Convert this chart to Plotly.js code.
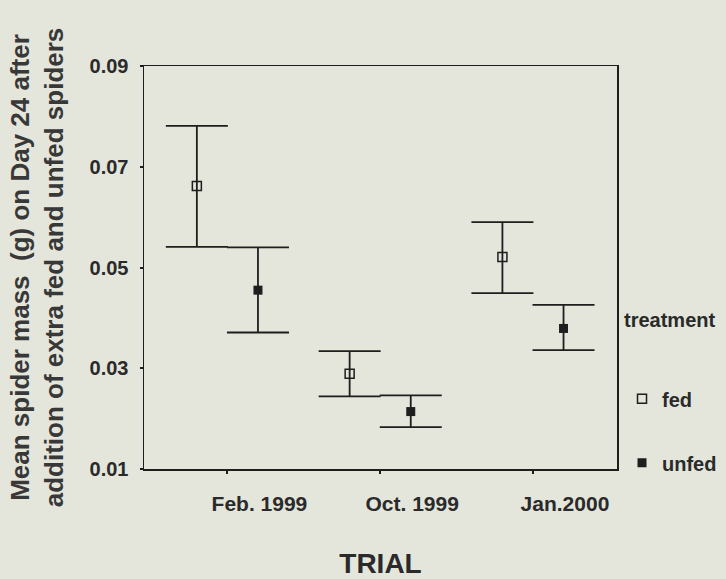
<!DOCTYPE html>
<html>
<head>
<meta charset="utf-8">
<script src="https://cdn.plot.ly/plotly-3.0.1.min.js"></script>
<style>
  html, body { margin: 0; padding: 0; background: #e4e5db; }
  #chart { width: 726px; height: 579px; }
</style>
</head>
<body>
<div id="chart"></div>
<script>
// Data
const trials = ["Feb. 1999", "Oct. 1999", "Jan.2000"];
const fedMean  = [0.0662, 0.0289, 0.0521];
const fedUpper = [0.0781, 0.0334, 0.0590];
const fedLower = [0.0541, 0.0244, 0.0449];
const unfedMean  = [0.0455, 0.0214, 0.0379];
const unfedUpper = [0.0540, 0.0246, 0.0426];
const unfedLower = [0.0371, 0.0183, 0.0336];
const yTicks = [0.01, 0.03, 0.05, 0.07, 0.09];

const idx = trials.map((t, i) => i + 1);
const dodge = 0.2;
const ink = "#1e1e1e";
const txt = "#2a2a2a";
const fontFam = "Liberation Sans, Arial, sans-serif";

function errs(mean, up, lo) {
  return {
    type: "data", symmetric: false,
    array: mean.map((m, i) => up[i] - m),
    arrayminus: mean.map((m, i) => m - lo[i]),
    color: ink, thickness: 1.8, width: 31
  };
}

const traces = [
  {
    type: "scatter", mode: "markers", name: "fed", legendgroup: "fed",
    x: idx.map(v => v - dodge), y: fedMean,
    error_y: errs(fedMean, fedUpper, fedLower),
    marker: { symbol: "square-open", size: 9, color: ink, line: { width: 1.5, color: ink } }
  },
  {
    type: "scatter", mode: "markers", name: "unfed", legendgroup: "unfed",
    x: idx.map(v => v + dodge), y: unfedMean,
    error_y: errs(unfedMean, unfedUpper, unfedLower),
    marker: { symbol: "square", size: 9, color: ink }
  }
];

const layout = {
  width: 726, height: 579,
  paper_bgcolor: "#e4e5db", plot_bgcolor: "#e4e5db",
  margin: { l: 143.5, r: 109, t: 66, b: 110, autoexpand: false },
  font: { family: fontFam, color: txt, size: 20 },
  showlegend: true,
  xaxis: {
    range: [0.454, 3.55],
    tickvals: idx, ticktext: trials,
    ticks: "outside", ticklen: 3, tickwidth: 2, tickcolor: ink,
    ticklabelshift: 32, ticklabelstandoff: 12,
    tickfont: { size: 21, family: fontFam, color: txt, weight: "bold" },
    showline: true, linecolor: ink, linewidth: 1.5, mirror: true,
    showgrid: false, zeroline: false,
    title: { text: "TRIAL", font: { size: 28, family: fontFam, color: txt, weight: "bold" }, standoff: 41 }
  },
  yaxis: {
    range: [0.01, 0.09],
    tickvals: yTicks, ticktext: yTicks.map(v => v.toFixed(2)),
    ticks: "outside", ticklen: 3, tickwidth: 2, tickcolor: ink,
    ticklabelstandoff: 7,
    tickfont: { size: 20, family: fontFam, color: txt, weight: "bold" },
    showline: true, linecolor: ink, linewidth: 1.5, mirror: true,
    showgrid: false, zeroline: false,
    title: {
      text: "Mean spider mass  (g) on Day 24 after<br>addition of extra fed and unfed spiders",
      font: { size: 26, family: fontFam, color: "#383838", weight: "bold" }, standoff: 18
    }
  },
  legend: {
    x: 1.0106, xanchor: "left", y: 0.4164, yanchor: "top",
    bgcolor: "rgba(0,0,0,0)",
    font: { size: 20, family: fontFam, color: txt, weight: "bold" },
    title: { text: "treatment<br>&nbsp;<br>&nbsp;", font: { size: 20, family: fontFam, color: txt, weight: "bold" } },
    tracegroupgap: 35
  }
};

Plotly.newPlot("chart", traces, layout, { displayModeBar: false, staticPlot: true });
</script>
</body>
</html>
